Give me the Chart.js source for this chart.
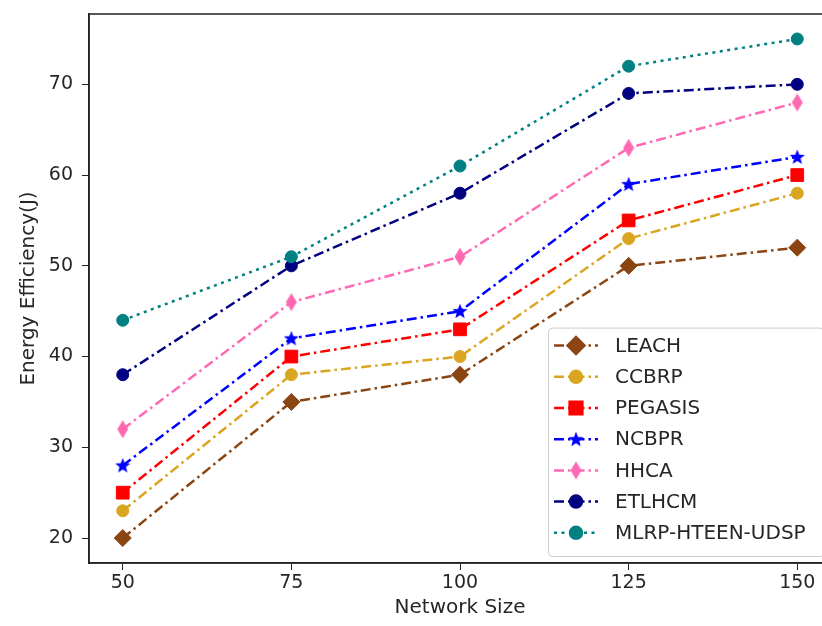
<!DOCTYPE html>
<html>
<head>
<meta charset="utf-8">
<script src="https://cdn.jsdelivr.net/npm/chart.js@4.4.0/dist/chart.umd.min.js"></script>
<style>
    body { margin: 0; background: #ffffff; overflow: hidden; }
    /* the source picture is cut off on the right, so the canvas is a bit wider than the window */
    #wrap { width: 822px; height: 626px; overflow: hidden; }
</style>
</head>
<body>
<div id="wrap"><canvas id="myChart" width="841" height="626"></canvas></div>
<script>
var networkSize = [50, 75, 100, 125, 150];
var leach   = [20, 35, 38, 50, 52];
var ccbrp   = [23, 38, 40, 53, 58];
var pegasis = [25, 40, 43, 55, 60];
var ncbpr   = [28, 42, 45, 59, 62];
var hhca    = [32, 46, 51, 63, 68];
var etlhcm  = [38, 50, 58, 69, 70];
var mlrp    = [44, 51, 61, 72, 75];

var seriesNames = ["LEACH", "CCBRP", "PEGASIS", "NCBPR", "HHCA", "ETLHCM", "MLRP-HTEEN-UDSP"];
var xTicks = [50, 75, 100, 125, 150];
var yTicks = [20, 30, 40, 50, 60, 70];

var FONT = "'DejaVu Sans', sans-serif";
var TEXT = "#262626";
var DASHDOT = [10, 4, 2.5, 4];
var DOTTED = [3, 4.5];

// marker images for the shapes chart.js does not have
function starMarker(color) {
    let c = document.createElement("canvas");
    c.width = 18; c.height = 18;
    let ctx = c.getContext("2d");
    ctx.fillStyle = color;
    ctx.beginPath();
    for (let i = 0; i < 10; i++) {
        let r = (i % 2 == 0) ? 8 : 3.4;
        let a = -Math.PI / 2 + i * Math.PI / 5;
        let px = 9 + r * Math.cos(a);
        let py = 9.5 + r * Math.sin(a);
        if (i == 0) ctx.moveTo(px, py); else ctx.lineTo(px, py);
    }
    ctx.closePath();
    ctx.fill();
    return c;
}

function thinDiamond(color) {
    let c = document.createElement("canvas");
    c.width = 14; c.height = 20;
    let ctx = c.getContext("2d");
    ctx.fillStyle = color;
    ctx.beginPath();
    ctx.moveTo(7, 1);
    ctx.lineTo(12.5, 10);
    ctx.lineTo(7, 19);
    ctx.lineTo(1.5, 10);
    ctx.closePath();
    ctx.fill();
    return c;
}

function makeSeries(name, values, color, style, radius, dash) {
    return {
        label: name,
        data: values.map(function (v, i) { return { x: networkSize[i], y: v }; }),
        borderColor: color,
        backgroundColor: color,
        borderWidth: 2.5,
        borderDash: dash,
        pointStyle: style,
        pointRadius: radius,
        pointHoverRadius: radius,
        pointBackgroundColor: color,
        pointBorderColor: color,
        pointBorderWidth: 1,
        tension: 0,
        fill: false
    };
}

var datasets = [
    makeSeries(seriesNames[0], leach, "#8B4513", "rectRot", 8.5, DASHDOT),
    makeSeries(seriesNames[1], ccbrp, "#DAA520", "circle", 6, DASHDOT),
    makeSeries(seriesNames[2], pegasis, "#FF0000", "rect", 9, DASHDOT),
    makeSeries(seriesNames[3], ncbpr, "#0000FF", starMarker("#0000FF"), 8, DASHDOT),
    makeSeries(seriesNames[4], hhca, "#FF69B4", thinDiamond("#FF69B4"), 9, DASHDOT),
    makeSeries(seriesNames[5], etlhcm, "#000080", "circle", 6, DASHDOT),
    makeSeries(seriesNames[6], mlrp, "#008080", "circle", 6, DOTTED)
];
// matplotlib draws the first series underneath
datasets.forEach(function (d, i) { d.order = datasets.length - i; });

// box round the plot + legend in the lower right corner
var framePlugin = {
    id: "frame",
    afterDraw: function (chart) {
        let ctx = chart.ctx;
        let a = chart.chartArea;
        ctx.save();
        ctx.strokeStyle = "#222222";
        ctx.lineWidth = 1.5;
        ctx.strokeRect(a.left, a.top, a.right - a.left, a.bottom - a.top);

        let boxW = 276, rowH = 31.2;
        let boxH = rowH * datasets.length + 10;
        let bx = a.right - 7 - boxW;
        let by = a.bottom - 7 - boxH;
        ctx.fillStyle = "rgba(255,255,255,0.85)";
        ctx.strokeStyle = "#cccccc";
        ctx.lineWidth = 1;
        ctx.beginPath();
        ctx.roundRect(bx + 0.5, by + 0.5, boxW, boxH, 4);
        ctx.fill();
        ctx.stroke();

        ctx.font = "20px " + FONT;
        ctx.textBaseline = "middle";
        ctx.textAlign = "left";
        datasets.forEach(function (d, i) {
            let y = by + 18 + i * rowH;
            ctx.strokeStyle = d.borderColor;
            ctx.lineWidth = d.borderWidth;
            ctx.setLineDash(d.borderDash);
            ctx.beginPath();
            ctx.moveTo(bx + 6, y);
            ctx.lineTo(bx + 50, y);
            ctx.stroke();
            ctx.setLineDash([]);
            ctx.fillStyle = d.pointBackgroundColor;
            Chart.helpers.drawPoint(ctx, {
                pointStyle: d.pointStyle,
                radius: d.pointRadius,
                rotation: 0,
                borderWidth: 1
            }, bx + 28, y);
            ctx.fillStyle = TEXT;
            ctx.fillText(d.label, bx + 67, y + 1);
        });
        ctx.restore();
    }
};

new Chart("myChart", {
    type: "line",
    data: { datasets: datasets },
    options: {
        responsive: false,
        animation: false,
        layout: { padding: { left: 0, right: 4, top: 14, bottom: 0 } },
        plugins: {
            legend: { display: false },
            tooltip: { enabled: false }
        },
        scales: {
            x: {
                type: "linear",
                min: 45,
                max: 155,
                afterBuildTicks: function (scale) {
                    scale.ticks = xTicks.map(function (v) { return { value: v }; });
                },
                afterFit: function (scale) {
                    scale.height = 63;
                    scale.paddingLeft = 0;
                    scale.paddingRight = 0;
                },
                grid: { display: true, drawOnChartArea: false, drawTicks: true, tickLength: 7, color: "#222222" },
                border: { display: true, color: "#222222", width: 1.5 },
                ticks: { color: TEXT, padding: 2, font: { family: FONT, size: 19 } },
                title: {
                    display: true,
                    text: "Network Size",
                    color: TEXT,
                    padding: { top: 0, bottom: 6 },
                    font: { family: FONT, size: 20 }
                }
            },
            y: {
                type: "linear",
                min: 17.25,
                max: 77.75,
                afterBuildTicks: function (scale) {
                    scale.ticks = yTicks.map(function (v) { return { value: v }; });
                },
                afterFit: function (scale) {
                    scale.width = 89;
                    scale.paddingTop = 0;
                    scale.paddingBottom = 0;
                },
                grid: { display: true, drawOnChartArea: false, drawTicks: true, tickLength: 7, color: "#222222" },
                border: { display: true, color: "#222222", width: 1.5 },
                ticks: { color: TEXT, padding: 9, font: { family: FONT, size: 19 } },
                title: {
                    display: true,
                    text: "Energy Efficiency(J)",
                    color: TEXT,
                    padding: { top: 17, bottom: 0 },
                    font: { family: FONT, size: 20 }
                }
            }
        }
    },
    plugins: [framePlugin]
});
</script>
</body>
</html>
